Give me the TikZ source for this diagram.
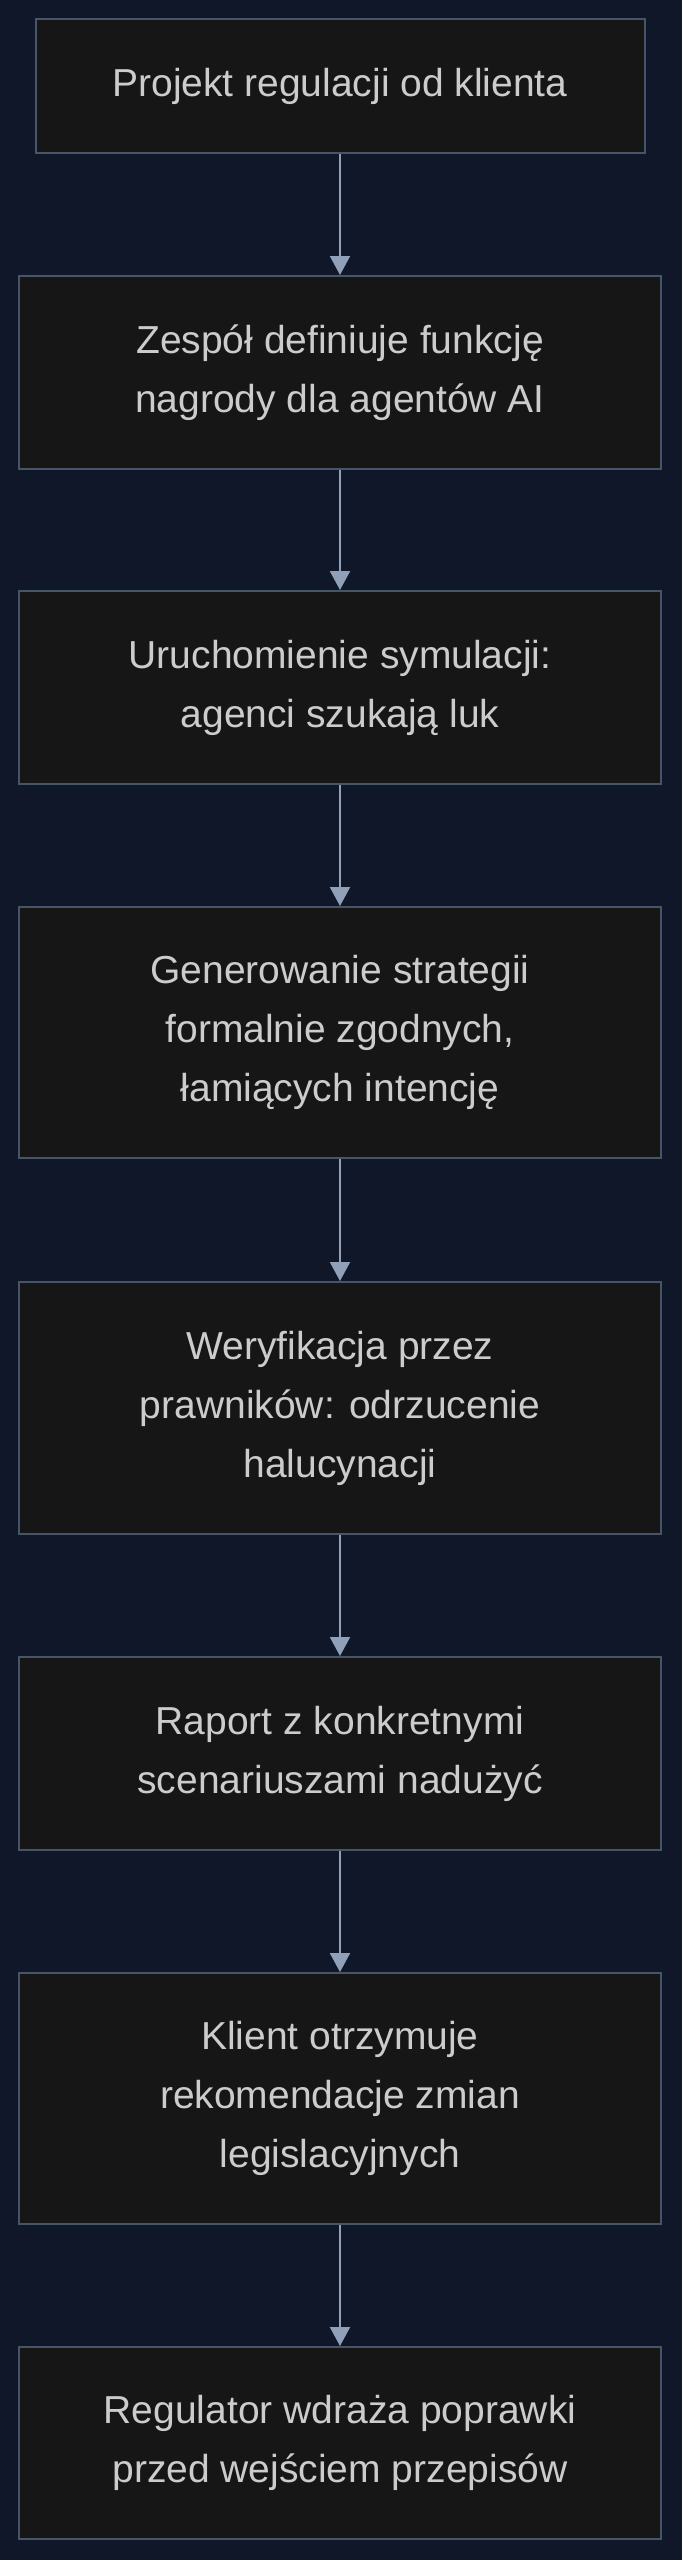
\documentclass[tikz,border=0pt]{standalone}
\usepackage{fontspec}
\setmainfont{Liberation Sans}
\usetikzlibrary{arrows.meta}
\definecolor{bgcol}{RGB}{16,23,41}
\definecolor{boxfill}{RGB}{22,22,22}
\definecolor{boxline}{RGB}{71,85,105}
\definecolor{arrcol}{RGB}{143,160,184}
\definecolor{txtcol}{RGB}{204,204,204}

\begin{document}
\begin{tikzpicture}[x=1pt, y=-1pt,
  stepbox/.style={draw=boxline, fill=boxfill, line width=2pt,
    minimum width=642pt, text=txtcol, align=center,
    font=\fontsize{39}{59}\selectfont},
  arr/.style={draw=arrcol, line width=2pt,
    -{Triangle[length=19pt,width=20pt]}}]
%background
\useasboundingbox (0,0) rectangle (681,2560);
\fill[bgcol] (-2,-2) rectangle (683,2562);
%boxes
\node[stepbox, minimum width=609pt, minimum height=134pt] (b1) at (340,86)
     {Projekt regulacji od klienta};
\node[stepbox, minimum height=193pt] (b2) at (340,372.5)
     {Zespół definiuje funkcję\\nagrody dla agentów AI};
\node[stepbox, minimum height=193pt] (b3) at (340,687.5)
     {Uruchomienie symulacji:\\agenci szukają luk};
\node[stepbox, minimum height=251pt] (b4) at (340,1032.5)
     {Generowanie strategii\\formalnie zgodnych,\\łamiących intencję};
\node[stepbox, minimum height=252pt] (b5) at (340,1408)
     {Weryfikacja przez\\prawników: odrzucenie\\halucynacji};
\node[stepbox, minimum height=193pt] (b6) at (340,1753.5)
     {Raport z konkretnymi\\scenariuszami nadużyć};
\node[stepbox, minimum height=251pt] (b7) at (340,2098.5)
     {Klient otrzymuje\\rekomendacje zmian\\legislacyjnych};
\node[stepbox, minimum height=192pt] (b8) at (340,2443)
     {Regulator wdraża poprawki\\przed wejściem przepisów};
%arrows
\foreach \a/\b in {b1/b2,b2/b3,b3/b4,b4/b5,b5/b6,b6/b7,b7/b8}
{
  \draw[arr] (\a.south) -- (\b.north);
}
\end{tikzpicture}
\end{document}
